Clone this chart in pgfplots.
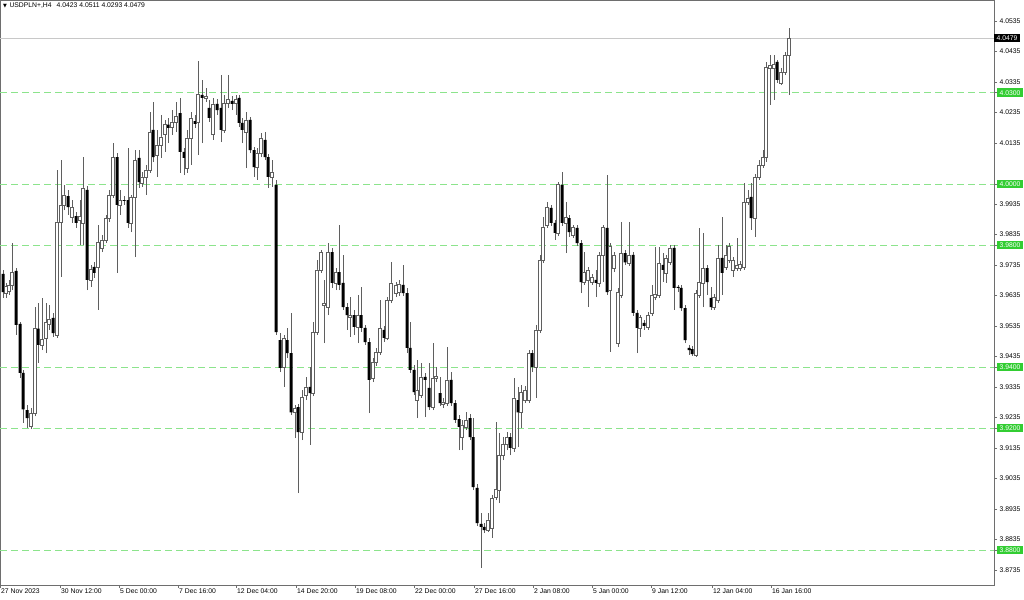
\documentclass[border=0pt]{standalone}
\usepackage{fontspec}
\setmainfont{Liberation Sans}
\newfontfamily\symfont{DejaVu Sans}
\usepackage{pgfplots}
\usepackage{pgfplotstable}
\pgfplotsset{compat=1.18}

\definecolor{levelgreen}{RGB}{140,228,140}
\definecolor{taggreen}{RGB}{50,205,50}
\definecolor{wick}{RGB}{95,95,95}
\definecolor{frame}{RGB}{110,110,110}
\definecolor{bidline}{RGB}{200,200,200}

% USDPLN+ H4 candles: x (chart position), open, high, low, close
\pgfplotstableread{
x o h l c
3 3.9706 3.9719 3.9627 3.9646
6 3.9643 3.9676 3.9627 3.9666
9 3.9650 3.9686 3.9637 3.9670
12 3.9670 3.9807 3.9653 3.9712
16 3.9716 3.9725 3.9506 3.9539
20 3.9542 3.9548 3.9365 3.9381
23 3.9381 3.9391 3.9217 3.9262
27 3.9259 3.9276 3.9201 3.9233
31 3.9207 3.9266 3.9197 3.9249
35 3.9249 3.9597 3.9239 3.9529
38 3.9526 3.9610 3.9414 3.9473
42 3.9473 3.9627 3.9456 3.9492
46 3.9496 3.9610 3.9446 3.9548
49 3.9539 3.9604 3.9522 3.9558
53 3.9562 3.9578 3.9499 3.9512
57 3.9506 4.0047 3.9496 3.9876
61 3.9876 4.0079 3.9696 3.9932
64 3.9932 3.9998 3.9915 3.9965
68 3.9961 3.9981 3.9899 3.9925
72 3.9892 3.9948 3.9873 3.9925
76 3.9895 3.9908 3.9857 3.9873
80 3.9880 3.9948 3.9801 3.9895
83 3.9873 4.0089 3.9801 3.9988
87 3.9981 3.9994 3.9653 3.9686
91 3.9686 3.9735 3.9663 3.9722
94 3.9729 3.9744 3.9693 3.9709
98 3.9729 3.9866 3.9588 3.9810
102 3.9791 3.9834 3.9777 3.9817
106 3.9817 3.9899 3.9807 3.9889
109 3.9889 3.9981 3.9876 3.9965
113 3.9965 4.0135 3.9955 4.0089
117 4.0089 4.0102 3.9709 3.9932
120 3.9932 3.9981 3.9899 3.9948
124 3.9948 3.9961 3.9932 3.9945
128 3.9948 4.0119 3.9857 3.9873
131 3.9873 3.9965 3.9843 3.9958
135 3.9958 4.0112 3.9761 4.0079
139 4.0086 4.0112 3.9988 4.0007
142 4.0004 4.0040 3.9991 4.0024
146 4.0021 4.0063 3.9965 4.0047
150 4.0047 4.0236 4.0037 4.0171
153 4.0178 4.0269 4.0072 4.0089
157 4.0096 4.0178 4.0024 4.0129
161 4.0129 4.0227 4.0086 4.0155
165 4.0162 4.0211 4.0106 4.0195
168 4.0195 4.0217 4.0135 4.0185
172 4.0185 4.0243 4.0162 4.0204
176 4.0204 4.0269 4.0171 4.0224
180 4.0233 4.0283 4.0037 4.0106
184 4.0106 4.0119 4.0030 4.0086
187 4.0053 4.0178 4.0037 4.0152
191 4.0152 4.0236 4.0063 4.0217
195 4.0207 4.0227 4.0185 4.0198
198 4.0204 4.0404 4.0096 4.0296
202 4.0293 4.0342 4.0135 4.0283
206 4.0283 4.0315 4.0269 4.0289
209 4.0250 4.0276 4.0204 4.0217
213 4.0162 4.0283 4.0145 4.0263
217 4.0263 4.0279 4.0227 4.0243
221 4.0250 4.0358 4.0138 4.0178
224 4.0178 4.0293 4.0168 4.0266
228 4.0266 4.0358 4.0250 4.0279
232 4.0273 4.0289 4.0243 4.0263
236 4.0266 4.0293 4.0227 4.0279
239 4.0283 4.0293 4.0188 4.0201
242 4.0201 4.0217 4.0135 4.0178
246 4.0171 4.0236 4.0053 4.0211
250 4.0211 4.0220 4.0102 4.0112
254 4.0112 4.0122 4.0024 4.0056
257 4.0056 4.0119 4.0014 4.0102
261 4.0102 4.0168 4.0089 4.0152
265 4.0145 4.0171 4.0079 4.0089
268 4.0089 4.0099 3.9988 4.0024
272 4.0024 4.0079 3.9991 4.0040
276 3.9998 4.0014 3.9506 3.9515
280 3.9489 3.9512 3.9384 3.9398
284 3.9398 3.9506 3.9335 3.9496
287 3.9489 3.9529 3.9430 3.9446
291 3.9446 3.9578 3.9243 3.9252
295 3.9252 3.9276 3.9167 3.9266
298 3.9269 3.9279 3.8987 3.9187
302 3.9187 3.9325 3.9161 3.9302
306 3.9309 3.9368 3.9292 3.9335
310 3.9335 3.9401 3.9145 3.9315
313 3.9315 3.9548 3.9305 3.9515
317 3.9515 3.9751 3.9506 3.9719
321 3.9719 3.9784 3.9709 3.9777
324 3.9604 3.9686 3.9479 3.9610
328 3.9597 3.9807 3.9571 3.9777
332 3.9777 3.9791 3.9660 3.9676
336 3.9676 3.9725 3.9653 3.9712
339 3.9712 3.9866 3.9653 3.9670
343 3.9676 3.9768 3.9588 3.9597
347 3.9597 3.9610 3.9522 3.9571
350 3.9565 3.9630 3.9499 3.9571
354 3.9571 3.9588 3.9506 3.9532
358 3.9532 3.9637 3.9479 3.9571
361 3.9571 3.9663 3.9515 3.9529
365 3.9529 3.9539 3.9473 3.9482
369 3.9482 3.9496 3.9249 3.9358
373 3.9365 3.9430 3.9351 3.9417
376 3.9417 3.9463 3.9404 3.9450
380 3.9450 3.9620 3.9440 3.9526
384 3.9522 3.9535 3.9482 3.9496
387 3.9496 3.9630 3.9489 3.9620
391 3.9620 3.9744 3.9610 3.9676
396 3.9643 3.9679 3.9630 3.9670
399 3.9646 3.9686 3.9633 3.9673
403 3.9670 3.9735 3.9633 3.9643
407 3.9643 3.9660 3.9446 3.9463
410 3.9463 3.9548 3.9381 3.9391
414 3.9391 3.9408 3.9309 3.9318
417 3.9292 3.9424 3.9233 3.9325
421 3.9309 3.9414 3.9299 3.9368
425 3.9368 3.9381 3.9236 3.9358
429 3.9332 3.9414 3.9259 3.9269
433 3.9269 3.9479 3.9259 3.9365
436 3.9365 3.9401 3.9351 3.9371
440 3.9315 3.9368 3.9272 3.9282
443 3.9279 3.9299 3.9266 3.9286
447 3.9282 3.9466 3.9272 3.9358
451 3.9358 3.9384 3.9272 3.9282
455 3.9282 3.9292 3.9217 3.9227
459 3.9230 3.9243 3.9128 3.9204
462 3.9171 3.9227 3.9128 3.9211
466 3.9204 3.9252 3.9194 3.9227
470 3.9233 3.9246 3.9161 3.9171
473 3.9171 3.9233 3.8997 3.9007
477 3.9004 3.9017 3.8879 3.8889
481 3.8886 3.8921 3.8742 3.8876
484 3.8876 3.8889 3.8856 3.8866
488 3.8866 3.8921 3.8859 3.8899
492 3.8873 3.8981 3.8840 3.8971
496 3.8974 3.9220 3.8964 3.9000
499 3.8997 3.9184 3.8954 3.9112
503 3.9112 3.9171 3.9095 3.9148
507 3.9148 3.9187 3.9128 3.9171
510 3.9171 3.9184 3.9112 3.9135
514 3.9135 3.9365 3.9122 3.9299
518 3.9292 3.9335 3.9138 3.9252
521 3.9252 3.9342 3.9201 3.9318
525 3.9292 3.9338 3.9282 3.9325
529 3.9292 3.9456 3.9282 3.9446
532 3.9446 3.9456 3.9384 3.9401
536 3.9398 3.9539 3.9299 3.9522
540 3.9522 3.9768 3.9512 3.9751
543 3.9751 3.9892 3.9741 3.9860
547 3.9866 3.9941 3.9857 3.9925
551 3.9922 3.9932 3.9863 3.9873
555 3.9873 3.9883 3.9817 3.9840
558 3.9840 4.0007 3.9830 3.9998
562 3.9998 4.0040 3.9863 3.9873
566 3.9873 3.9941 3.9774 3.9892
569 3.9889 3.9899 3.9827 3.9843
573 3.9834 3.9866 3.9824 3.9857
577 3.9857 3.9866 3.9797 3.9807
581 3.9807 3.9817 3.9643 3.9679
584 3.9679 3.9777 3.9670 3.9712
588 3.9686 3.9729 3.9597 3.9719
592 3.9679 3.9706 3.9670 3.9696
596 3.9686 3.9719 3.9630 3.9676
599 3.9676 3.9777 3.9663 3.9768
603 3.9768 3.9866 3.9679 3.9857
607 3.9857 4.0030 3.9637 3.9646
610 3.9653 3.9807 3.9450 3.9797
614 3.9725 3.9777 3.9712 3.9768
618 3.9479 3.9660 3.9466 3.9646
621 3.9637 3.9876 3.9627 3.9774
625 3.9774 3.9784 3.9735 3.9744
629 3.9741 3.9876 3.9732 3.9768
633 3.9768 3.9777 3.9568 3.9578
637 3.9578 3.9588 3.9446 3.9529
640 3.9529 3.9571 3.9499 3.9562
644 3.9545 3.9555 3.9522 3.9535
648 3.9532 3.9581 3.9522 3.9571
652 3.9578 3.9670 3.9568 3.9637
655 3.9630 3.9794 3.9620 3.9640
659 3.9637 3.9794 3.9627 3.9741
663 3.9735 3.9774 3.9679 3.9719
666 3.9709 3.9768 3.9676 3.9758
670 3.9744 3.9801 3.9735 3.9791
674 3.9791 3.9801 3.9588 3.9660
678 3.9663 3.9670 3.9646 3.9660
681 3.9660 3.9670 3.9584 3.9594
685 3.9594 3.9604 3.9479 3.9489
689 3.9463 3.9473 3.9440 3.9456
692 3.9459 3.9469 3.9437 3.9443
696 3.9440 3.9653 3.9434 3.9643
699 3.9637 3.9857 3.9627 3.9679
703 3.9676 3.9840 3.9597 3.9725
707 3.9725 3.9735 3.9637 3.9679
711 3.9627 3.9663 3.9588 3.9597
714 3.9597 3.9640 3.9588 3.9630
718 3.9620 3.9801 3.9610 3.9758
722 3.9758 3.9892 3.9637 3.9709
726 3.9729 3.9801 3.9719 3.9768
729 3.9751 3.9807 3.9741 3.9797
733 3.9719 3.9761 3.9696 3.9751
737 3.9725 3.9824 3.9716 3.9735
740 3.9725 3.9748 3.9716 3.9738
744 3.9729 4.0004 3.9719 3.9941
748 3.9941 3.9981 3.9932 3.9955
751 3.9958 4.0004 3.9850 3.9889
755 3.9889 4.0034 3.9827 4.0024
759 4.0024 4.0079 4.0014 4.0063
763 4.0063 4.0112 4.0053 4.0089
766 4.0089 4.0401 4.0072 4.0384
770 4.0381 4.0423 4.0260 4.0391
774 4.0381 4.0423 4.0276 4.0394
777 4.0401 4.0407 4.0332 4.0342
781 4.0332 4.0381 4.0325 4.0368
785 4.0368 4.0433 4.0358 4.0423
789 4.0423 4.0511 4.0293 4.0479
}\candles

\pgfplotsset{
    chartframe/.style={
        width=994pt, height=585pt, scale only axis,
        xmin=0, xmax=994, ymin=3.86858, ymax=4.06039,
    },
    level/.style={levelgreen, line width=0.9pt, dash pattern=on 7pt off 4pt},
}

\begin{document}
\begin{tikzpicture}[font=\fontsize{6.8}{8}\selectfont]
\fill[white] (0pt,-14pt) rectangle (1024pt,585pt);
\path[use as bounding box] (0pt,-14pt) rectangle (1024pt,585pt);

\begin{axis}[
    chartframe,
    axis line style={frame, line width=0.7pt},
    ytick pos=right, yticklabel pos=right,
    xtick pos=bottom,
    tick align=outside,
    major tick length=3pt,
    tick style={frame, line width=0.7pt},
    ytick={3.8735,3.8835,3.8935,3.9035,3.9135,3.9235,3.9335,3.9435,3.9535,
           3.9635,3.9735,3.9835,3.9935,4.0135,4.0235,4.0335,4.0435,4.0535},
    yticklabels={3.8735,3.8835,3.8935,3.9035,3.9135,3.9235,3.9335,3.9435,3.9535,
           3.9635,3.9735,3.9835,3.9935,4.0135,4.0235,4.0335,4.0435,4.0535},
    yticklabel style={anchor=west, inner xsep=2.5pt, inner ysep=1.8pt},
    extra y ticks={3.88,3.92,3.94,3.98,4.00,4.03},
    extra y tick labels={3.8800,3.9200,3.9400,3.9800,4.0000,4.0300},
    extra y tick style={yticklabel style={fill=taggreen, text=white}},
    xtick={0,60,119,178,236,296,355,414,474,533,592,651,712,771},
    xticklabels={27 Nov 2023,30 Nov 12:00,5 Dec 00:00,7 Dec 16:00,12 Dec 04:00,
        14 Dec 20:00,19 Dec 08:00,22 Dec 00:00,27 Dec 16:00,2 Jan 08:00,
        5 Jan 00:00,9 Jan 12:00,12 Jan 04:00,16 Jan 16:00},
    xticklabel style={anchor=north west, inner sep=1pt},
]
% price levels
\addplot[level] coordinates {(0,4.03) (994,4.03)};
\addplot[level] coordinates {(0,4.00) (994,4.00)};
\addplot[level] coordinates {(0,3.98) (994,3.98)};
\addplot[level] coordinates {(0,3.94) (994,3.94)};
\addplot[level] coordinates {(0,3.92) (994,3.92)};
\addplot[level] coordinates {(0,3.88) (994,3.88)};
% bid line
\addplot[bidline, line width=0.8pt] coordinates {(0,4.0479) (994,4.0479)};

% wicks
\addplot[draw=none, mark=none,
    error bars/.cd, y dir=plus, y explicit, error mark=none,
    error bar style={draw=wick, line width=0.75pt}]
    table[x=x, y=l, y error expr=\thisrow{h}-\thisrow{l}] {\candles};

\node[anchor=north west, inner sep=0pt] at (rel axis cs:0,1)
    [xshift=3pt, yshift=-3pt]
    {{\symfont\fontsize{5}{5}\selectfont ▼}\hspace{2.5pt}USDPLN+,H4\hspace{5pt}4.0423 4.0511 4.0293 4.0479};
\end{axis}

% candle bodies
\begin{axis}[
    chartframe,
    ybar stacked, bar width=3pt,
    axis line style={draw=none},
    xtick=\empty, ytick=\empty,
    ytick pos=right, yticklabel pos=right,
    major tick length=0pt,
    extra y ticks={4.0479},
    extra y tick labels={4.0479},
    extra y tick style={yticklabel style={anchor=west, inner xsep=2.5pt,
        inner ysep=1.8pt, fill=black, text=white}},
]
\addplot[draw=none, fill=none] table[x=x, y expr={min(\thisrow{o},\thisrow{c})}] {\candles};
\addplot[draw=wick, fill=white, line width=0.6pt] table[x=x, y expr={max(\thisrow{c}-\thisrow{o},0)}] {\candles};
\addplot[draw=none, fill=black] table[x=x, y expr={max(\thisrow{o}-\thisrow{c},0)}] {\candles};
\end{axis}
\end{tikzpicture}
\end{document}
